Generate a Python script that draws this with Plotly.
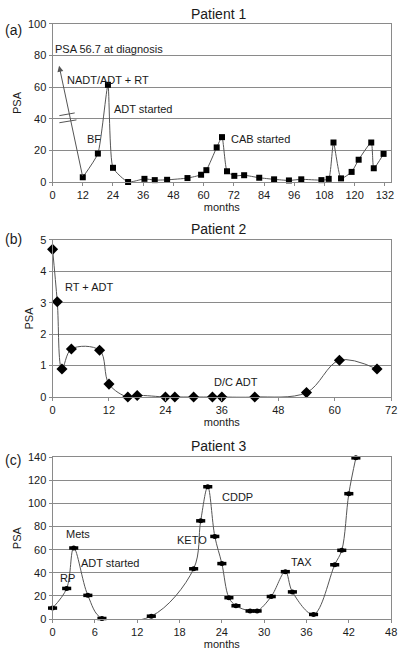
import plotly.graph_objects as go

# ---------------- data ----------------
p1_months = [12, 18, 22, 24, 30, 36.5, 40.6, 45.5, 53.6, 59.0, 61.1, 65.2, 67.3, 69.3,
             72.2, 76.1, 82.1, 88.0, 93.9, 98.8, 106.8, 109.7, 111.6, 114.6, 118.8,
             121.6, 126.6, 127.6, 131.5]
p1_psa = [3, 18, 61.5, 9, 0, 2, 1.2, 1.4, 2.5, 4.6, 7.5, 21.9, 28.4, 6.8,
          3.9, 4.3, 2.7, 1.7, 1.0, 1.7, 1.2, 2.0, 25, 2.3, 6.4,
          14.1, 25, 8.7, 17.8]

p2_months = [0, 1, 2, 4, 10, 12, 16, 18, 24, 26, 30, 34, 36, 43, 54, 61, 69]
p2_psa = [4.7, 3.03, 0.89, 1.53, 1.49, 0.41, 0.0, 0.05, 0.0, 0.0, 0.0, 0.0, 0.0, 0.0,
          0.14, 1.17, 0.89]

p3_months = [0, 2, 3, 5, 7, 14, 20, 21, 22, 23, 24, 25, 26, 28, 29, 31, 33, 34, 37,
             40, 41, 42, 43]
p3_psa = [9.5, 26.5, 61.5, 20.5, 0.5, 2.5, 43.5, 85, 114.5, 71.5, 48, 18.5, 11.5, 7,
          7, 19.5, 41, 23.5, 4, 47, 59.5, 108.5, 139.5]

p1_xticks = list(range(0, 133, 12))
p1_yticks = list(range(0, 101, 20))
p2_xticks = list(range(0, 73, 12))
p2_yticks = list(range(0, 6, 1))
p3_xticks = list(range(0, 49, 6))
p3_yticks = list(range(0, 141, 20))

p1_notes = [("PSA 56.7 at diagnosis", 0.3, 84), ("NADT/ADT + RT", 4.9, 64.6),
            ("ADT started", 23.8, 46.4), ("BF", 12.8, 27.3), ("CAB started", 70.2, 27.3)]
p2_notes = [("RT + ADT", 2.3, 3.5), ("D/C ADT", 33.8, 0.47)]
p3_notes = [("Mets", 1.6, 73.3), ("RP", 0.7, 35.2), ("ADT started", 3.8, 48.9),
            ("KETO", 17.4, 68), ("CDDP", 23.8, 106), ("TAX", 33.5, 49.5)]

# diagnosis arrow (from first plotted point to tip) and axis-break marks
p1_arrow_tip = (2.6, 73.5)
p1_breaks = [((2.7, 42.0), (8.8, 43.7)), ((2.7, 37.5), (9.5, 39.3))]

# ---------------- figure ----------------
W, H = 403, 655
FONT = "Liberation Sans, Arial, sans-serif"
GRAY = "#8a8a8a"
LINE = "#555555"
TXT = "#1a1a1a"

def px_x(x):
    return x / W

def px_y(y):
    return 1 - y / H

def ydom(top_px, bot_px):
    return [px_y(bot_px), px_y(top_px)]

xdom = [px_x(50.7), px_x(397.0)]

fig = go.Figure()

fig.add_trace(go.Scatter(x=p1_months, y=p1_psa, mode="lines+markers",
                         line=dict(color=LINE, width=1, shape="spline", smoothing=0.5),
                         marker=dict(symbol="square", size=6, color="black"),
                         xaxis="x", yaxis="y", showlegend=False, cliponaxis=False))
fig.add_trace(go.Scatter(x=p2_months, y=p2_psa, mode="lines+markers",
                         line=dict(color=LINE, width=1, shape="spline", smoothing=1.0),
                         marker=dict(symbol="diamond", size=8.5, color="black"),
                         xaxis="x2", yaxis="y2", showlegend=False, cliponaxis=False))
fig.add_trace(go.Scatter(x=p3_months, y=p3_psa, mode="lines",
                         line=dict(color=LINE, width=1, shape="spline", smoothing=1.0),
                         xaxis="x3", yaxis="y3", showlegend=False, cliponaxis=False))
# elliptical markers: small circle + short horizontal bar
fig.add_trace(go.Scatter(x=p3_months, y=p3_psa, mode="markers",
                         marker=dict(symbol="line-ew", size=6.5, line=dict(color="black", width=3.5)),
                         xaxis="x3", yaxis="y3", showlegend=False, cliponaxis=False))
fig.add_trace(go.Scatter(x=p3_months, y=p3_psa, mode="markers",
                         marker=dict(symbol="circle", size=5, color="black"),
                         xaxis="x3", yaxis="y3", showlegend=False, cliponaxis=False))

def xaxis(rng, ticks, anchor):
    return dict(domain=xdom, range=rng, tickvals=ticks, anchor=anchor,
                showline=True, linecolor=GRAY, linewidth=1, mirror=True,
                showgrid=False, zeroline=False, ticks="outside", ticklen=3,
                tickcolor=GRAY, tickfont=dict(family=FONT, size=11, color=TXT),
                title=dict(text="months", font=dict(family=FONT, size=11, color=TXT),
                           standoff=0))

def yaxis(rng, ticks, dom, anchor):
    return dict(domain=dom, range=rng, tickvals=ticks, anchor=anchor,
                showline=True, linecolor=GRAY, linewidth=1, mirror=True,
                showgrid=True, gridcolor=GRAY, gridwidth=1, zeroline=False,
                ticks="outside", ticklen=3, tickcolor=GRAY,
                tickfont=dict(family=FONT, size=11, color=TXT),
                title=dict(text="PSA", font=dict(family=FONT, size=11, color=TXT), standoff=4))

fig.update_layout(
    width=W, height=H, margin=dict(l=0, r=0, t=0, b=0),
    paper_bgcolor="white", plot_bgcolor="white",
    xaxis=xaxis([0, 134.5], p1_xticks, "y"),
    yaxis=yaxis([0, 100], p1_yticks, ydom(18.3, 179.3), "x"),
    xaxis2=xaxis([0, 72], p2_xticks, "y2"),
    yaxis2=yaxis([0, 5], p2_yticks, ydom(238.3, 398.3), "x2"),
    xaxis3=xaxis([0, 48], p3_xticks, "y3"),
    yaxis3=yaxis([0, 140], p3_yticks, ydom(459.7, 624.5), "x3"),
)

annos = []
for (txt, ax_, ay_), (xr, yr) in [(n, ("x", "y")) for n in p1_notes] + \
        [(n, ("x2", "y2")) for n in p2_notes] + [(n, ("x3", "y3")) for n in p3_notes]:
    annos.append(dict(text=txt, x=ax_, y=ay_, xref=xr, yref=yr, xanchor="left",
                      yanchor="middle", showarrow=False,
                      font=dict(family=FONT, size=11, color=TXT)))

# titles and panel letters
for title, ypx in [("Patient 1", 8.5), ("Patient 2", 227), ("Patient 3", 448)]:
    annos.append(dict(text=title, x=px_x(220), y=px_y(ypx), xref="paper", yref="paper",
                      xanchor="center", yanchor="middle", showarrow=False,
                      font=dict(family=FONT, size=14, color=TXT)))
for lab, ypx in [("(a)", 24), ("(b)", 237), ("(c)", 462)]:
    annos.append(dict(text=lab, x=0, y=px_y(ypx), xref="paper", yref="paper",
                      xanchor="left", yanchor="middle", showarrow=False,
                      font=dict(family=FONT, size=14, color=TXT)))

# diagnosis arrow
annos.append(dict(x=p1_arrow_tip[0], y=p1_arrow_tip[1], ax=p1_months[0], ay=p1_psa[0],
                  xref="x", yref="y", axref="x", ayref="y", showarrow=True,
                  arrowhead=2, arrowsize=1.2, arrowwidth=1, arrowcolor=LINE, text=""))
fig.update_layout(annotations=annos)

shapes = []
for (x0, y0), (x1, y1) in p1_breaks:
    shapes.append(dict(type="line", x0=x0, y0=y0, x1=x1, y1=y1, xref="x", yref="y",
                       line=dict(color=LINE, width=1)))
fig.update_layout(shapes=shapes)

# remove the browser's default 8px body margin so the figure fills the window
fig.write_html("out.html", config={"displayModeBar": False},
               post_script="document.body.style.margin='0';document.body.style.overflow='hidden';")
